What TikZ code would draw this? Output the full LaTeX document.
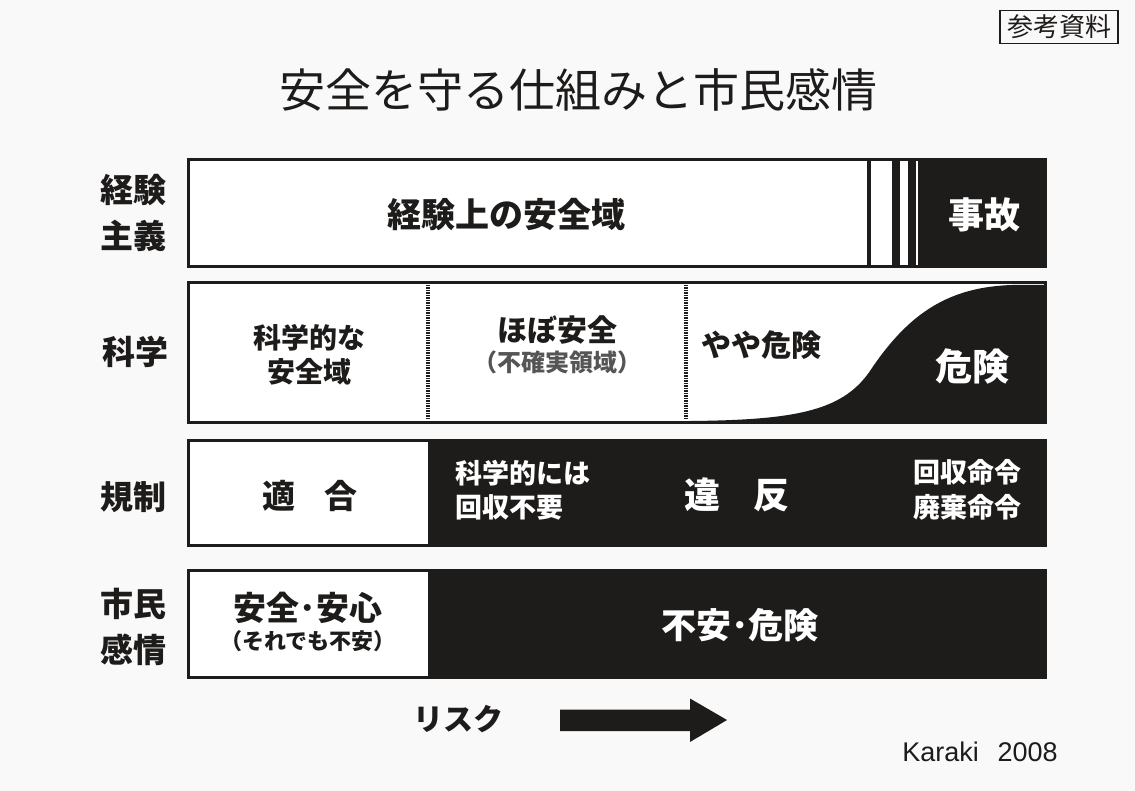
\documentclass[tikz,border=0pt]{standalone}
\usepackage{fontspec}
\setmainfont{Noto Sans CJK JP}
\newfontfamily\latinfont{Liberation Sans}
\newcommand\fsz[2]{\fontsize{#1pt}{#2pt}\selectfont}
\newcommand\fss[1]{\fontsize{#1pt}{\dimexpr #1pt*122/100\relax}\selectfont}
\definecolor{ink}{HTML}{1E1C1A}
\definecolor{paper}{HTML}{FAF9FA}
\definecolor{grayink}{HTML}{555555}
\tikzset{
  bar/.style={draw=ink, line width=3pt, fill=white},
  blk/.style={fill=ink, draw=none},
  rowlabel/.style={font=\bfseries\fsz{33}{46}, text=ink, align=center, inner sep=0pt},
  dtext/.style={font=\bfseries\fss{#1}, text=ink, align=center, inner sep=0pt},
  wtext/.style={font=\bfseries\fss{#1}, text=white, align=center, inner sep=0pt},
  divider/.style={draw=ink, line width=3.5pt, dash pattern=on 1.5pt off 1pt}
}
\begin{document}
\begin{tikzpicture}[x=1pt,y=-1pt]
\fill[paper] (0,0) rectangle (1135,791);
\useasboundingbox (0,0) rectangle (1135,791);

% reference tag
\node[draw=ink, line width=1.2pt, font=\fsz{26}{30}, text=ink, inner sep=2pt, minimum width=118pt, minimum height=33pt] (tag) at (1059,27) {参考資料};

% title
\node[font=\fsz{46}{52}, text=ink] (title) at (578,90) {安全を守る仕組みと市民感情};

% ---------- row 1
\path[bar] (188,160) rectangle (1045,267);
\fill[blk] (867,161.5) rectangle (871,265.5);
\fill[blk] (892,161.5) rectangle (900,265.5);
\fill[blk] (908,161.5) rectangle (916,265.5);
\fill[blk] (918,161.5) rectangle (1045,265.5);
\draw[draw=ink, line width=3pt] (188,160) rectangle (1045,267);
\node[rowlabel] (l1) at (133,213) {経験\\主義};
\node[dtext=34] (t11) at (506,215) {経験上の安全域};
\node[wtext=36] (t12) at (984,215) {事故};

% ---------- row 2
\path[bar] (188,283) rectangle (1045,422);
\fill[blk] (690,421) .. controls (800,420) and (845,410) .. (872,368)
  .. controls (910,312) and (950,287) .. (1012,285) -- (1045,285) -- (1045,421) -- cycle;
\draw[draw=ink, line width=3pt] (188,283) rectangle (1045,422);
\draw[divider] (428,285) -- (428,420);
\draw[divider] (686,285) -- (686,420);
\node[rowlabel] (l2) at (135,352) {科学};
\node[dtext=28] (t21) at (309,355) {科学的な\\安全域};
\node[dtext=30] (t22) at (557,330) {ほぼ安全};
\node[font=\bfseries\fsz{24}{28}, text=grayink, inner sep=0pt] (t23) at (557,362) {（不確実領域）};
\node[dtext=30] (t24) at (761,345) {やや危険};
\node[wtext=37] (t25) at (972,366) {危険};

% ---------- row 3
\path[bar] (188,440) rectangle (1045,545);
\fill[blk] (428,441.5) rectangle (1045,543.5);
\draw[draw=ink, line width=3pt] (188,440) rectangle (1045,545);
\node[rowlabel] (l3) at (133,497) {規制};
\node[dtext=33] (t31) at (310,496) {適\hspace{0.9em}合};
\node[font=\bfseries\fsz{27}{34}, text=white, align=left, inner sep=0pt, anchor=west] (t32) at (455,490) {科学的には\\回収不要};
\node[wtext=36] (t33) at (737,495) {違\hspace{0.9em}反};
\node[font=\bfseries\fsz{27}{35}, text=white, align=center, inner sep=0pt] (t34) at (967,490) {回収命令\\廃棄命令};

% ---------- row 4
\path[bar] (188,570) rectangle (1045,677);
\fill[blk] (428,571.5) rectangle (1045,675.5);
\draw[draw=ink, line width=3pt] (188,570) rectangle (1045,677);
\node[rowlabel] (l4) at (133,627) {市民\\感情};
\node[dtext=33] (t41) at (308,608) {安全･安心};
\node[font=\bfseries\fsz{22}{26}, text=ink, inner sep=0pt] (t42) at (308,641) {（それでも不安）};
\node[wtext=35] (t43) at (740,625) {不安･危険};

% ---------- risk arrow
\node[dtext=30, anchor=west] (risk) at (413,719) {リスク};
\coordinate (a0) at (560,720);
\coordinate (a1) at (727,720);
\fill[ink] (a0) ++(0,-10.5) -- ++(130,0) -- ++(0,-11) -- (a1) -- ++(-37,22) -- ++(0,-11) -- ++(-130,0) -- cycle;

\node[font=\latinfont\fsz{27}{30}, text=ink, anchor=east, inner sep=0pt] (credit) at (1058,752) {Karaki\hspace{0.7em}2008};
\end{tikzpicture}
\end{document}
